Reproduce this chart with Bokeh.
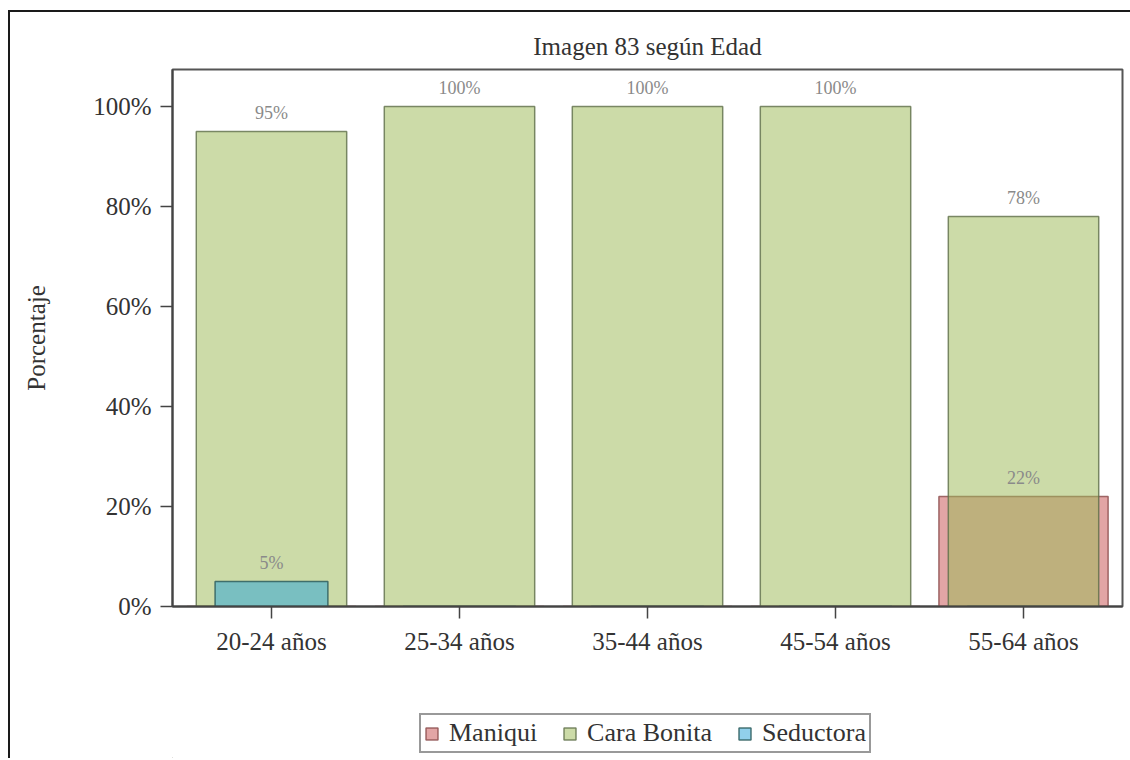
from bokeh.plotting import figure
from bokeh.layouts import column
from bokeh.models import ColumnDataSource, Range1d, FactorRange, FixedTicker, PrintfTickFormatter, Legend, LegendItem
from bokeh.embed import file_html
from bokeh.resources import INLINE
from bokeh.core.properties import value

categories = ["20-24 años", "25-34 años", "35-44 años", "45-54 años", "55-64 años"]
maniqui = [0, 0, 0, 0, 22]
cara_bonita = [95, 100, 100, 100, 78]
seductora = [5, 0, 0, 0, 0]
series_names = ["Maniqui", "Cara Bonita", "Seductora"]
y_ticks = [0, 20, 40, 60, 80, 100]

FONT = "Liberation Serif"

STYLES = [
    dict(fill_color="#C75252", fill_alpha=0.52, line_color="#8A4A4A", line_alpha=0.8, line_width=1.5),
    dict(fill_color="#9DBA58", fill_alpha=0.52, line_color="#5E6E48", line_alpha=0.8, line_width=1.5),
    dict(fill_color="#2DA5D9", fill_alpha=0.52, line_color="#2E5E5E", line_alpha=0.85, line_width=1.5),
]
WIDTHS = [0.9, 0.8, 0.6]

p = figure(width=1120, height=690, output_backend="svg", toolbar_location=None,
           x_range=FactorRange(factors=categories, range_padding=0.0106),
           y_range=Range1d(0, 107.4),
           min_border_left=162, min_border_right=8, min_border_top=57, min_border_bottom=96,
           title="Imagen 83 según Edad")

p.title.align = "center"
p.title.text_font = FONT
p.title.text_font_size = "25px"
p.title.text_font_style = "normal"
p.title.text_color = "#333333"
p.title.standoff = 19

def src(vals):
    return ColumnDataSource(dict(x=categories, top=vals,
                                 lab=[f"{v}%" if v > 0 else "" for v in vals]))

sources = [src(maniqui), src(cara_bonita), src(seductora)]

for s, w, st in zip(sources, WIDTHS, STYLES):
    p.vbar(x="x", top="top", bottom=0, width=w, source=s, **st)

for s in sources:
    p.text(x="x", y="top", text="lab", source=s, text_align="center", text_baseline="alphabetic",
           y_offset=-19, text_font=value(FONT), text_font_size="18px", text_color="#8a8a8a")

p.xgrid.visible = False
p.ygrid.visible = False
p.outline_line_color = "#555555"
p.outline_line_width = 2

p.yaxis.ticker = FixedTicker(ticks=y_ticks)
p.yaxis.formatter = PrintfTickFormatter(format="%d%%")
p.yaxis.axis_label = "Porcentaje"
p.yaxis.axis_label_standoff = 40
p.yaxis.axis_label_text_font = FONT
p.yaxis.axis_label_text_font_size = "25px"
p.yaxis.axis_label_text_font_style = "normal"
p.yaxis.axis_label_text_color = "#333333"

for ax in (p.xaxis[0], p.yaxis[0]):
    ax.major_label_text_font = FONT
    ax.major_label_text_font_size = "25px"
    ax.major_label_text_color = "#333333"
    ax.axis_line_color = "#444444"
    ax.axis_line_width = 2
    ax.major_tick_line_color = "#444444"
    ax.major_tick_line_width = 1.5
    ax.major_tick_out = 12
    ax.major_tick_in = 0
    ax.minor_tick_line_color = None
    ax.major_label_standoff = 9

# legend strip below the chart (its frame lines up with the chart frame)
q = figure(width=1120, height=56, output_backend="svg", toolbar_location=None,
           x_range=Range1d(0, 1), y_range=Range1d(0, 1), x_axis_type=None, y_axis_type=None,
           min_border_left=0, min_border_right=0, min_border_top=0, min_border_bottom=0)
q.xgrid.visible = False
q.ygrid.visible = False
q.outline_line_color = None

items = []
for name, w, st in zip(series_names, WIDTHS, STYLES):
    # single off-range point: nothing drawn in the strip, but the legend swatch gets its style
    r = q.vbar(x=[-5], top=[-5], bottom=-6, width=w, **st)
    items.append(LegendItem(label=name, renderers=[r], index=0))

legend = Legend(items=items, orientation="horizontal", location=(247, 5))
legend.label_text_font = FONT
legend.label_text_font_size = "26px"
legend.label_text_color = "#333333"
legend.glyph_width = 15
legend.glyph_height = 15
legend.label_standoff = 10
legend.spacing = 25
legend.padding = 3
legend.margin = 0
legend.border_line_color = "#333333"
legend.border_line_width = 2
legend.background_fill_alpha = 0
legend.label_height = 24
q.add_layout(legend, "center")

layout = column(p, q, spacing=0)
layout.styles = {"border-left": "2px solid #1a1a1a", "border-top": "2px solid #1a1a1a",
                 "margin-top": "10px", "margin-left": "8px"}

open("out.html", "w").write(file_html(layout, INLINE))
